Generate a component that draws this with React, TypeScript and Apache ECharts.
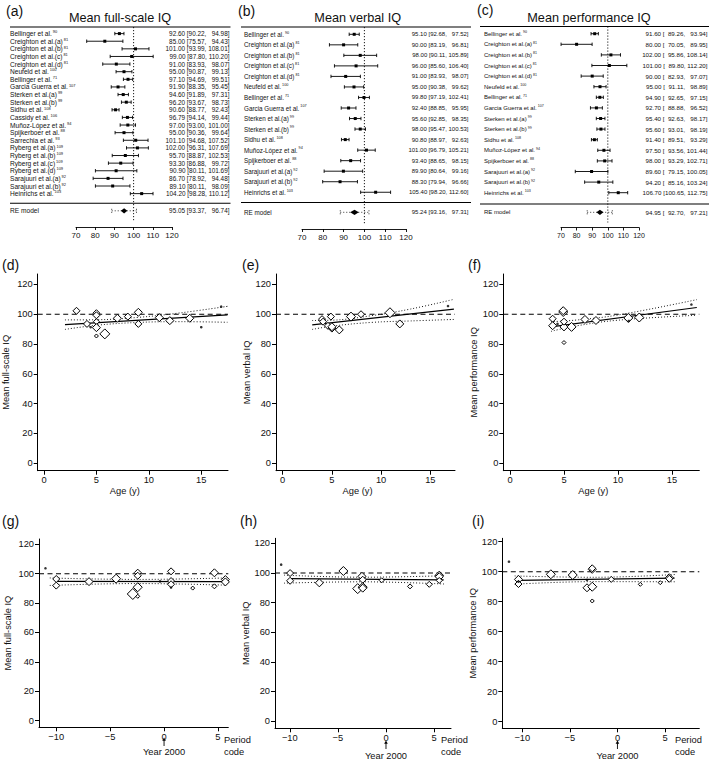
import React, { useEffect, useRef } from "react";
import * as echarts from "echarts";

const FONT = "'Liberation Sans', Arial, Helvetica, sans-serif";
const INK = "#111111";

// ---------------- forest plot data ----------------
const studyA = ["Bellinger et al.", "Creighton et al.(a)", "Creighton et al.(b)", "Creighton et al.(c)", "Creighton et al.(d)", "Neufeld et al.", "Bellinger et al.", "Garcia Guerra et al.", "Sterken et al.(a)", "Sterken et al.(b)", "Sidhu et al.", "Cassidy et al.", "Muñoz-López et al.", "Spijkerboer et al.", "Sarrechia et al.", "Ryberg et al.(a)", "Ryberg et al.(b)", "Ryberg et al.(c)", "Ryberg et al.(d)", "Sarajuuri et al.(a)", "Sarajuuri et al.(b)", "Heinrichs et al."];
const refA = ["90", "81", "81", "81", "81", "100", "71", "107", "99", "99", "108", "106", "94", "88", "93", "109", "109", "109", "109", "92", "92", "103"];
const estA = [92.6, 85.0, 101.0, 99.0, 91.0, 95.0, 97.1, 91.9, 94.6, 96.2, 90.6, 96.79, 97.0, 95.0, 101.1, 102.0, 95.7, 93.3, 90.9, 86.7, 89.1, 104.2];
const loA = [90.22, 75.57, 93.99, 87.8, 83.93, 90.87, 94.69, 88.35, 91.89, 93.67, 88.77, 94.14, 93.0, 90.36, 94.68, 96.31, 88.87, 86.88, 80.11, 78.92, 80.11, 98.28];
const hiA = [94.98, 94.43, 108.01, 110.2, 98.07, 99.13, 99.51, 95.45, 97.31, 98.73, 92.43, 99.44, 101.0, 99.64, 107.52, 107.69, 102.53, 99.72, 101.69, 94.48, 98.09, 110.12];
const reA = [95.05, 93.37, 96.74];
const piA = [88.6, 101.5];

const studyBC = ["Bellinger et al.", "Creighton et al.(a)", "Creighton et al.(b)", "Creighton et al.(c)", "Creighton et al.(d)", "Neufeld et al.", "Bellinger et al.", "Garcia Guerra et al.", "Sterken et al.(a)", "Sterken et al.(b)", "Sidhu et al.", "Muñoz-López et al.", "Spijkerboer et al.", "Sarajuuri et al.(a)", "Sarajuuri et al.(b)", "Heinrichs et al."];
const refBC = ["90", "81", "81", "81", "81", "100", "71", "107", "99", "99", "108", "94", "88", "92", "92", "103"];
const estB = [95.1, 90.0, 98.0, 96.0, 91.0, 95.0, 99.8, 92.4, 95.6, 98.0, 90.8, 101.0, 93.4, 89.9, 88.3, 105.4];
const loB = [92.68, 83.19, 90.11, 85.6, 83.93, 90.38, 97.19, 88.85, 92.85, 95.47, 88.97, 96.79, 88.65, 80.64, 79.94, 98.2];
const hiB = [97.52, 96.81, 105.89, 106.4, 98.07, 99.62, 102.41, 95.95, 98.35, 100.53, 92.63, 105.21, 98.15, 99.16, 96.66, 112.6];
const reB = [95.24, 93.16, 97.31];
const piB = [88.4, 102.2];

const estC = [91.6, 80.0, 102.0, 101.0, 90.0, 95.0, 94.9, 92.7, 95.4, 95.6, 91.4, 97.5, 98.0, 89.6, 94.2, 106.7];
const loC = [89.26, 70.05, 95.86, 89.8, 82.93, 91.11, 92.65, 88.88, 92.63, 93.01, 89.51, 93.56, 93.29, 79.15, 85.16, 100.65];
const hiC = [93.94, 89.95, 108.14, 112.2, 97.07, 98.89, 97.15, 96.52, 98.17, 98.19, 93.29, 101.44, 102.71, 100.05, 103.24, 112.75];
const reC = [94.95, 92.7, 97.21];
const piC = [86.8, 102.9];

// ---------------- meta-regression data: [x, IQ, weight-size] ----------------
const ageFsiq = [[3.1, 102.3, 7], [4.1, 93.5, 7], [5.0, 100.7, 7], [5.0, 99.3, 7], [5.0, 95.0, 6], [5.0, 91.0, 8], [5.0, 85.4, 4], [5.8, 86.8, 10], [7.0, 97.3, 8], [8.0, 98.4, 7], [9.0, 101.3, 8], [9.0, 93.5, 7], [11.0, 97.7, 8], [12.0, 95.7, 8], [13.9, 97.3, 8]];
const ageFsiqDots = [[4.45, 91.3], [15.0, 91.3], [16.9, 105.1]];
const ageFsiqFit = [[2.0, 93.0], [17.5, 99.6]];
const ageFsiqUp = [[2.0, 96.2], [5.0, 96.3], [9.0, 97.9], [13.0, 100.9], [17.5, 105.3]];
const ageFsiqLo = [[2.0, 89.8], [5.0, 92.6], [9.0, 94.5], [13.0, 95.0], [17.5, 94.6]];

const ageViq = [[4.0, 96.7, 7], [4.1, 95.0, 7], [4.6, 92.2, 7], [4.9, 98.4, 7], [5.0, 90.7, 8], [5.0, 91.6, 8], [5.75, 89.5, 8], [6.94, 98.4, 9], [7.96, 100.0, 7], [10.9, 101.0, 10], [11.9, 93.5, 8]];
const ageViqDots = [[16.8, 105.5]];
const ageViqFit = [[3.0, 92.8], [17.4, 103.4]];
const ageViqUp = [[3.0, 95.8], [5.0, 96.0], [9.0, 99.0], [13.0, 103.5], [17.4, 110.0]];
const ageViqLo = [[3.0, 89.8], [5.0, 92.0], [9.0, 94.5], [13.0, 95.5], [17.4, 96.5]];

const agePiq = [[3.95, 97.0, 7], [3.95, 92.3, 8], [4.93, 101.5, 9], [4.93, 102.4, 8], [5.0, 91.5, 8], [5.0, 95.0, 7], [5.7, 91.5, 9], [5.0, 81.0, 4], [6.94, 96.5, 8], [7.96, 95.8, 8], [10.96, 97.5, 9], [11.97, 97.8, 9]];
const agePiqDots = [[4.4, 93.5], [11.0, 95.5], [16.8, 106.5]];
const agePiqFit = [[3.8, 91.5], [17.3, 104.5]];
const agePiqUp = [[3.8, 95.0], [6.0, 96.0], [10.0, 99.5], [17.3, 109.8]];
const agePiqLo = [[3.8, 88.5], [6.0, 92.0], [10.0, 96.0], [17.3, 99.3]];

const perFsiq = [[-10.0, 96.4, 7], [-10.0, 91.9, 7], [-6.96, 94.6, 8], [-4.45, 96.6, 9], [-2.44, 100.7, 7], [-2.44, 98.6, 7], [-2.9, 86.2, 11], [-2.44, 90.8, 9], [-2.44, 84.6, 4], [0.65, 101.6, 7], [0.65, 95.0, 7], [0.65, 92.8, 7], [2.66, 90.2, 4], [4.67, 100.6, 8], [4.67, 91.4, 5], [5.69, 96.0, 8], [5.69, 94.4, 8]];
const perFsiqDots = [[-11.0, 103.7], [-0.37, 94.8], [0.65, 90.6]];
const perFsiqFit = [[-10.0, 94.8], [5.4, 94.6]];
const perFsiqUp = [[-10.6, 97.1], [-2.5, 96.1], [5.8, 97.1]];
const perFsiqLo = [[-10.6, 92.0], [-2.5, 93.3], [5.8, 92.2]];

const perViq = [[-9.97, 100.0, 7], [-9.97, 94.8, 7], [-6.93, 93.4, 8], [-4.43, 101.4, 9], [-2.5, 97.8, 8], [-2.42, 95.5, 7], [-2.94, 89.5, 10], [-2.42, 90.5, 9], [-2.42, 89.8, 8], [-0.45, 95.1, 5], [2.5, 91.0, 5], [4.5, 92.4, 6], [5.54, 98.6, 8], [5.54, 97.5, 8], [5.54, 95.0, 6]];
const perViqDots = [[-10.9, 105.7]];
const perViqFit = [[-10.0, 96.2], [6.0, 95.4]];
const perViqUp = [[-10.6, 98.6], [-2.5, 97.2], [6.1, 98.2]];
const perViqLo = [[-10.6, 93.2], [-2.5, 94.1], [6.1, 92.6]];

const perPiq = [[-10.4, 94.9, 8], [-10.4, 91.8, 7], [-7.0, 98.3, 9], [-4.7, 97.8, 9], [-3.2, 89.3, 8], [-2.65, 101.6, 8], [-2.65, 102.3, 7], [-2.65, 90.0, 9], [-2.65, 80.5, 4], [-0.65, 94.9, 6], [2.4, 91.6, 4], [4.5, 92.7, 4], [5.45, 96.0, 8], [5.45, 95.3, 7]];
const perPiqDots = [[-11.4, 106.7], [-10.4, 93.4], [-3.2, 94.5]];
const perPiqFit = [[-10.5, 94.3], [6.0, 95.8]];
const perPiqUp = [[-10.8, 97.2], [-2.5, 96.3], [6.2, 98.2]];
const perPiqLo = [[-10.8, 91.7], [-2.5, 93.4], [6.2, 93.3]];

const iqTicks = [0, 20, 40, 60, 80, 100, 120];
const ageTicks = [0, 5, 10, 15];
const periodTicks = [-10, -5, 0, 5];
const forestMin = 70;
const forestMax = 120;
const forestStep = 10;
const nullIQ = 100;
const yearZero = 0;

// ---------------- layout ----------------
const forestPanels = [
  { names: studyA, refs: refA, est: estA, lo: loA, hi: hiA, re: reA, pi: piA,
    left: 76, width: 96, top: 27, bottom: 227, firstY: 33.6, step: 7.62, reY: 210.8, sepY: 203.3,
    nameX: 10, valueX: 229.5, lineX1: 10, lineX2: 230.5, titleX: 120, titleY: 17.5, title: "Mean full-scale IQ",
    nameFont: 6.6, valueFont: 6.4, tickFont: 8, padLo: false },
  { names: studyBC, refs: refBC, est: estB, lo: loB, hi: hiB, re: reB, pi: piB,
    left: 302, width: 104, top: 27, bottom: 229, firstY: 34.3, step: 10.53, reY: 212.3, sepY: 202.5,
    nameX: 244, valueX: 468.5, lineX1: 241, lineX2: 471, titleX: 357.7, titleY: 17.5, title: "Mean verbal IQ",
    nameFont: 6.3, valueFont: 6.0, tickFont: 8, padLo: false },
  { names: studyBC, refs: refBC, est: estC, lo: loC, hi: hiC, re: reC, pi: piC,
    left: 561, width: 78, top: 26.5, bottom: 227.5, firstY: 33.7, step: 10.6, reY: 212.3, sepY: 204,
    nameX: 484, valueX: 707.5, lineX1: 480, lineX2: 709, titleX: 589, titleY: 17.5, title: "Mean performance IQ",
    nameFont: 6.0, valueFont: 6.2, tickFont: 7, padLo: true },
];

const scatterPanels = [
  { left: 37.7, top: 274, width: 190.3, height: 196.7, xMin: -0.6, xMax: 17.55, yMin: -5, yMax: 127, xTicks: ageTicks,
    yName: "Mean full-scale IQ", nameGap: 27, xName: "Age (y)", pts: ageFsiq, dots: ageFsiqDots, fit: ageFsiqFit, up: ageFsiqUp, lo: ageFsiqLo },
  { left: 276, top: 274, width: 179, height: 196.7, xMin: -0.68, xMax: 17.51, yMin: -5, yMax: 127, xTicks: ageTicks,
    yName: "Mean verbal IQ", nameGap: 24, xName: "Age (y)", pts: ageViq, dots: ageViqDots, fit: ageViqFit, up: ageViqUp, lo: ageViqLo },
  { left: 503.3, top: 274, width: 196, height: 196.7, xMin: -0.62, xMax: 17.53, yMin: -5, yMax: 127, xTicks: ageTicks,
    yName: "Mean performance IQ", nameGap: 25, xName: "Age (y)", pts: agePiq, dots: agePiqDots, fit: agePiqFit, up: agePiqUp, lo: agePiqLo },
  { left: 39, top: 539, width: 189.3, height: 188.3, xMin: -11.6, xMax: 5.96, yMin: -4.5, yMax: 123.6, xTicks: periodTicks,
    yName: "Mean full-scale IQ", nameGap: 27, xName: "", pts: perFsiq, dots: perFsiqDots, fit: perFsiqFit, up: perFsiqUp, lo: perFsiqLo,
    periodX: 224, arrowTop: 737.5, arrowBottom: 746, yearY: 752 },
  { left: 275, top: 538.3, width: 176, height: 190, xMin: -11.54, xMax: 6.76, yMin: -4.9, yMax: 123.5, xTicks: periodTicks,
    yName: "Mean verbal IQ", nameGap: 22.5, xName: "", pts: perViq, dots: perViqDots, fit: perViqFit, up: perViqUp, lo: perViqLo,
    periodX: 441, arrowTop: 740.5, arrowBottom: 749, yearY: 756 },
  { left: 502.3, top: 538.3, width: 197, height: 190, xMin: -12.1, xMax: 8.6, yMin: -4.4, yMax: 122.3, xTicks: periodTicks,
    yName: "Mean performance IQ", nameGap: 25, xName: "", pts: perPiq, dots: perPiqDots, fit: perPiqFit, up: perPiqUp, lo: perPiqLo,
    periodX: 675, arrowTop: 740.5, arrowBottom: 749, yearY: 756 },
];

const panelLabels: [string, number, number][] = [
  ["(a)", 6, 11], ["(b)", 238, 11], ["(c)", 477, 10], ["(d)", 2, 265], ["(e)", 242, 265], ["(f)", 468, 265],
  ["(g)", 2, 521], ["(h)", 240, 521], ["(i)", 472, 521],
];

const fig = (s: string) => (s.length >= 6 ? s : "\u2007".repeat(6 - s.length) + s);
const ciText = (e: number, l: number, h: number, padLo: boolean) => {
  const ls = l.toFixed(2);
  return `${e.toFixed(2)} [${padLo ? fig(ls) : ls}, ${fig(h.toFixed(2))}]`;
};
const minusFmt = (v: number) => (v < 0 ? "\u2212" + Math.abs(v) : String(v));

function forestRender(cfg: any) {
  return (params: any, api: any) => {
    const i = params.dataIndex;
    const isRE = i >= cfg.names.length;
    const row = api.value(0);
    const est = api.value(1);
    const lo = api.value(2);
    const hi = api.value(3);
    const pe = api.coord([est, row]);
    const pl = api.coord([lo, row]);
    const ph = api.coord([hi, row]);
    const y = pe[1];
    const st = { stroke: "#000", lineWidth: 0.9 };
    const ch: any[] = [];
    if (!isRE) {
      ch.push({ type: "line", shape: { x1: pl[0], y1: y, x2: ph[0], y2: y }, style: st });
      ch.push({ type: "line", shape: { x1: pl[0], y1: y - 1.7, x2: pl[0], y2: y + 1.7 }, style: st });
      ch.push({ type: "line", shape: { x1: ph[0], y1: y - 1.7, x2: ph[0], y2: y + 1.7 }, style: st });
      ch.push({ type: "rect", shape: { x: pe[0] - 1.5, y: y - 1.5, width: 3, height: 3 }, style: { fill: "#000" } });
    } else {
      const a = api.coord([cfg.pi[0], row]);
      const b = api.coord([cfg.pi[1], row]);
      const dot = { stroke: "#000", lineWidth: 0.8, lineDash: [1, 2] };
      ch.push({ type: "line", shape: { x1: a[0], y1: y, x2: b[0], y2: y }, style: dot });
      ch.push({ type: "line", shape: { x1: a[0], y1: y - 2, x2: a[0], y2: y + 2 }, style: dot });
      ch.push({ type: "line", shape: { x1: b[0], y1: y - 2, x2: b[0], y2: y + 2 }, style: dot });
      ch.push({ type: "polygon", shape: { points: [[pl[0], y], [pe[0], y - 2.6], [ph[0], y], [pe[0], y + 2.6]] }, style: { fill: "#000" } });
    }
    const nameText = isRE ? `{n|RE model}` : `{n|${cfg.names[i]}}{s|${cfg.refs[i]}}`;
    ch.push({
      type: "text", x: cfg.nameX, y,
      style: {
        text: nameText, align: "left", verticalAlign: "middle",
        rich: {
          n: { fontSize: cfg.nameFont, fontFamily: FONT, fill: INK, lineHeight: cfg.nameFont + 1 },
          s: { fontSize: cfg.nameFont * 0.6, fontFamily: FONT, fill: INK, verticalAlign: "top", padding: [0, 0, 0, 1] },
        },
      },
    });
    ch.push({
      type: "text", x: cfg.valueX, y,
      style: { text: ciText(est, lo, hi, cfg.padLo), fontSize: cfg.valueFont, fontFamily: FONT, fill: INK, align: "right", verticalAlign: "middle" },
    });
    return { type: "group", children: ch };
  };
}

function buildOption() {
  const grid: any[] = [];
  const xAxis: any[] = [];
  const yAxis: any[] = [];
  const series: any[] = [];

  forestPanels.forEach((p, k) => {
    const h = p.bottom - p.top;
    const yMin = -(p.firstY - p.top) / p.step;
    const yMax = yMin + h / p.step;
    const reRow = (p.reY - p.firstY) / p.step;
    grid.push({ left: p.left, top: p.top, width: p.width, height: h, containLabel: false, outerBoundsMode: "none" });
    xAxis.push({
      type: "value", gridIndex: k, min: forestMin, max: forestMax, interval: forestStep,
      axisLine: { show: true, onZero: false, lineStyle: { color: "#000", width: 0.9 } },
      axisTick: { show: true, length: 3, lineStyle: { color: "#000", width: 0.9 } },
      axisLabel: { fontSize: p.tickFont, fontFamily: FONT, color: INK, margin: 4 },
      splitLine: { show: false },
    });
    yAxis.push({ type: "value", gridIndex: k, inverse: true, min: yMin, max: yMax, show: false, axisLine: { onZero: false } });
    const data = p.names.map((_, i) => [i, p.est[i], p.lo[i], p.hi[i]]);
    data.push([reRow, p.re[0], p.re[1], p.re[2]]);
    series.push({
      type: "line", xAxisIndex: k, yAxisIndex: k, silent: true, symbol: "none",
      data: [[nullIQ, yMin], [nullIQ, (p.bottom - 5 - p.firstY) / p.step]],
      lineStyle: { color: "#000", width: 0.9, type: [1.2, 1.8] }, z: 1,
    });
    series.push({
      type: "custom", xAxisIndex: k, yAxisIndex: k, silent: true, clip: false,
      encode: { x: [1, 2, 3], y: 0 }, data, renderItem: forestRender(p), z: 3,
    });
  });

  scatterPanels.forEach((p, j) => {
    const k = 3 + j;
    grid.push({ left: p.left, top: p.top, width: p.width, height: p.height, containLabel: false, outerBoundsMode: "none" });
    xAxis.push({
      type: "value", gridIndex: k, min: p.xMin, max: p.xMax,
      axisLine: { show: true, onZero: false, lineStyle: { color: "#000", width: 1 } },
      axisTick: { show: true, length: 4, customValues: p.xTicks, lineStyle: { color: "#000", width: 1 } },
      axisLabel: { customValues: p.xTicks, fontSize: 9.3, fontFamily: FONT, color: INK, margin: 5, formatter: minusFmt },
      splitLine: { show: false },
      name: p.xName, nameLocation: "middle", nameGap: 16,
      nameTextStyle: { fontSize: 9.3, fontFamily: FONT, color: INK, padding: [0, 16, 0, 0] },
    });
    yAxis.push({
      type: "value", gridIndex: k, min: p.yMin, max: p.yMax,
      axisLine: { show: true, onZero: false, lineStyle: { color: "#000", width: 1 } },
      axisTick: { show: true, length: 4, customValues: iqTicks, lineStyle: { color: "#000", width: 1 } },
      axisLabel: { customValues: iqTicks, fontSize: 9.3, fontFamily: FONT, color: INK, margin: 5 },
      splitLine: { show: false },
      name: p.yName, nameLocation: "middle", nameGap: p.nameGap, nameRotate: 90,
      nameTextStyle: { fontSize: 9.3, fontFamily: FONT, color: INK },
    });
    const base = { xAxisIndex: k, yAxisIndex: k, silent: true };
    series.push({ ...base, type: "line", symbol: "none", data: [[p.xMin, nullIQ], [p.xMax, nullIQ]], lineStyle: { color: "#000", width: 1.1, type: [5, 3.5] }, z: 2 });
    series.push({ ...base, type: "line", symbol: "none", smooth: 0.4, data: p.up, lineStyle: { color: "#000", width: 0.9, type: [1, 2] }, z: 2 });
    series.push({ ...base, type: "line", symbol: "none", smooth: 0.4, data: p.lo, lineStyle: { color: "#000", width: 0.9, type: [1, 2] }, z: 2 });
    series.push({ ...base, type: "line", symbol: "none", data: p.fit, lineStyle: { color: "#000", width: 1.2 }, z: 3 });
    series.push({
      ...base, type: "scatter", symbol: "diamond", symbolSize: (v: number[]) => v[2], data: p.pts,
      itemStyle: { color: "#fff", borderColor: "#000", borderWidth: 1, opacity: 1 }, z: 5,
    });
    series.push({ ...base, type: "scatter", symbol: "circle", symbolSize: 2.6, data: p.dots, itemStyle: { color: "#000" }, z: 6 });
  });

  return { animation: false, backgroundColor: "#fff", grid, xAxis, yAxis, series };
}

function buildGraphics(chart: any) {
  const g: any[] = [];
  const txt = (text: string, x: number, y: number, size: number, align = "left", va = "middle", extra: any = {}) => ({
    type: "text", x, y, silent: true,
    style: { text, fontSize: size, fontFamily: FONT, fill: INK, align, verticalAlign: va, ...extra },
  });
  panelLabels.forEach(([t, x, y]) => g.push(txt(t, x, y, 14)));
  forestPanels.forEach((p) => {
    g.push(txt(p.title, p.titleX, p.titleY, 12.7, "center"));
    g.push({ type: "line", silent: true, shape: { x1: p.lineX1, y1: p.top, x2: p.lineX2, y2: p.top }, style: { stroke: "#000", lineWidth: 1.1 } });
    g.push({ type: "line", silent: true, shape: { x1: p.lineX1, y1: p.sepY, x2: p.lineX2, y2: p.sepY }, style: { stroke: "#000", lineWidth: 1.1 } });
  });
  scatterPanels.forEach((p: any, j) => {
    if (p.periodX === undefined) return;
    const k = 3 + j;
    const x0 = chart.convertToPixel({ xAxisIndex: k }, yearZero);
    g.push({ type: "line", silent: true, shape: { x1: x0, y1: p.arrowBottom, x2: x0, y2: p.arrowTop + 2 }, style: { stroke: "#000", lineWidth: 0.9 } });
    g.push({ type: "polygon", silent: true, shape: { points: [[x0 - 1.8, p.arrowTop + 3.2], [x0, p.arrowTop], [x0 + 1.8, p.arrowTop + 3.2]] }, style: { fill: "#000" } });
    g.push(txt("Year 2000", x0, p.yearY, 9.3, "center"));
    g.push(txt("Period\ncode", p.periodX, 734, 9.3, "left", "top", { lineHeight: 12 }));
  });
  return g;
}

export default function App() {
  const ref = useRef<HTMLDivElement>(null);
  useEffect(() => {
    const el = ref.current;
    if (!el) return;
    const chart = echarts.init(el, undefined, { renderer: "svg" });
    chart.setOption(buildOption() as any);
    chart.setOption({ graphic: buildGraphics(chart) } as any);
    return () => chart.dispose();
  }, []);
  return <div ref={ref} style={{ position: "absolute", left: 0, top: 0, width: 709, height: 763, background: "#fff" }} />;
}
